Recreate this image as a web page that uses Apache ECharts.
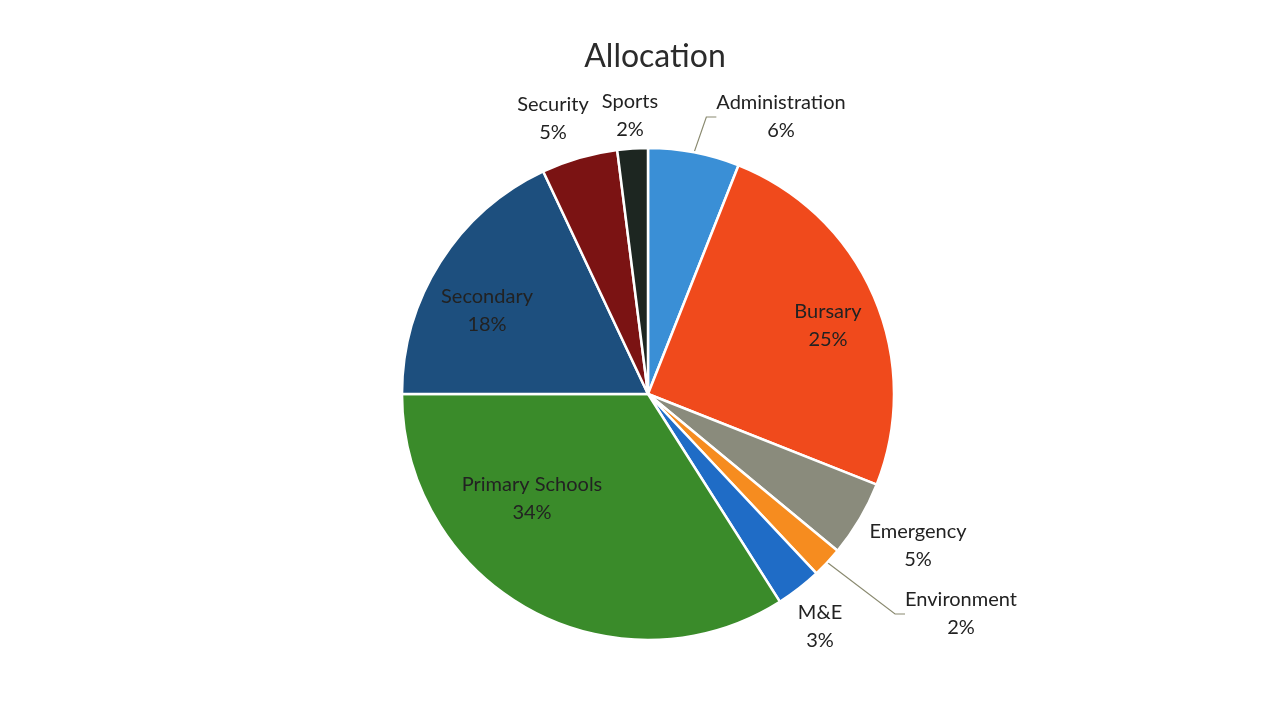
<!DOCTYPE html>
<html>
<head>
<meta charset="utf-8">
<script src="https://cdn.jsdelivr.net/npm/echarts@6/dist/echarts.min.js"></script>
<style>html,body{margin:0;padding:0;background:#fff}#c{width:1275px;height:705px}</style>
</head>
<body>
<div id="c"></div>
<script>
const categories = ['Administration','Bursary','Emergency','Environment','M&E','Primary Schools','Secondary','Security','Sports'];
const values = [6, 25, 5, 2, 3, 34, 18, 5, 2];
const colors = ['#3a8fd6','#f04a1c','#8a8b7c','#f68c1f','#1f6cc6','#3a8b2a','#1d4f7e','#7b1313','#1d2621'];
// label anchor positions (label placement only)
const labelPos = {
  'Administration': [781, 117],
  'Bursary': [828, 326],
  'Emergency': [918, 546],
  'Environment': [961, 614],
  'M&E': [820, 627],
  'Primary Schools': [532, 499],
  'Secondary': [487, 311],
  'Security': [553, 119],
  'Sports': [630, 116]
};
const withLine = {'Administration': true, 'Environment': true};

const chart = echarts.init(document.getElementById('c'), null, {renderer: 'canvas'});
chart.setOption({
  backgroundColor: '#ffffff',
  title: {
    text: 'Allocation',
    left: 650,
    textAlign: 'center',
    top: 36,
    textStyle: {fontFamily: 'Lato', fontSize: 32, fontWeight: 'normal', color: '#2b2b2b'}
  },
  series: [{
    type: 'pie',
    center: [648, 394],
    radius: [0, 246],
    startAngle: 90,
    clockwise: true,
    animation: false,
    itemStyle: {borderColor: '#ffffff', borderWidth: 2.5},
    label: {
      show: true,
      position: 'outside',
      formatter: p => p.name + '\n' + p.value + '%',
      fontFamily: 'Lato',
      fontSize: 20,
      lineHeight: 28,
      color: '#222',
      align: 'center'
    },
    labelLine: {show: false, lineStyle: {color: '#8a8a70', width: 1.2}},
    labelLayout: function (params) {
      const name = categories[params.dataIndex];
      const p = labelPos[name];
      return {x: p[0], y: p[1], align: 'center', verticalAlign: 'middle'};
    },
    data: categories.map((n, i) => ({
      name: n,
      value: values[i],
      itemStyle: {color: colors[i]},
      labelLine: {show: !!withLine[n], length: 10, length2: 10}
    }))
  }]
});
</script>
</body>
</html>
